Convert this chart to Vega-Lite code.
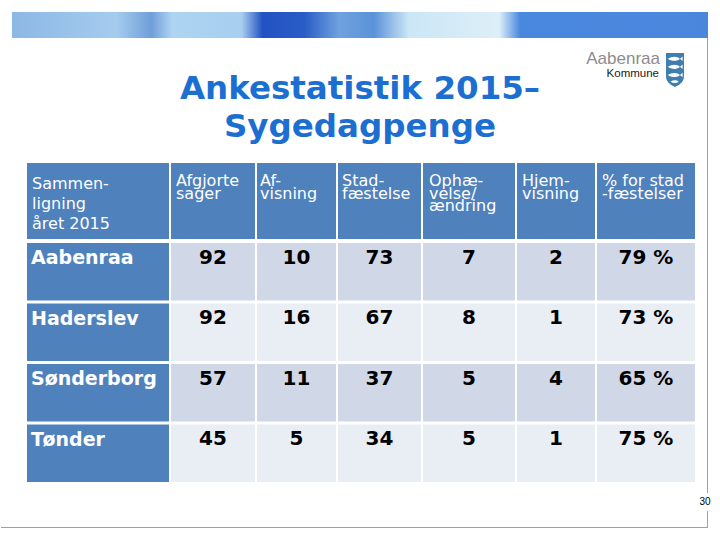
{
  "$schema": "https://vega.github.io/schema/vega-lite/v6.json",
  "padding": 0,
  "background": "white",
  "bounds": "flush",
  "columns": 8,
  "spacing": {"row": 4, "column": 2},
  "config": {
    "view": {"stroke": null},
    "font": "DejaVu Sans",
    "locale": {"number": {"decimal": ",", "thousands": ".", "grouping": [3], "currency": ["", " kr."], "percent": " %"}}
  },
  "title": {
    "text": ["Ankestatistik 2015–", "Sygedagpenge"],
    "anchor": "start",
    "align": "center",
    "frame": "group",
    "dx": 360,
    "font": "DejaVu Sans",
    "fontSize": 32.5,
    "fontWeight": "bold",
    "color": "#1C6FD1",
    "lineHeight": 38,
    "offset": -143.7
  },
  "datasets": {
    "kommuner": [
      {"Kommune": "Aabenraa", "afgjorte": 92, "afvisning": 10, "stadfaestelse": 73, "ophaevelse": 7, "hjemvisning": 2, "pct": 0.79},
      {"Kommune": "Haderslev", "afgjorte": 92, "afvisning": 16, "stadfaestelse": 67, "ophaevelse": 8, "hjemvisning": 1, "pct": 0.73},
      {"Kommune": "Sønderborg", "afgjorte": 57, "afvisning": 11, "stadfaestelse": 37, "ophaevelse": 5, "hjemvisning": 4, "pct": 0.65},
      {"Kommune": "Tønder", "afgjorte": 45, "afvisning": 5, "stadfaestelse": 34, "ophaevelse": 5, "hjemvisning": 1, "pct": 0.75}
    ],
    "headers": [
      {"col": "sammen", "label": ["Sammen-", "ligning", "året 2015"]},
      {"col": "afgjorte", "label": ["Afgjorte", "sager"]},
      {"col": "afvisning", "label": ["Af-", "visning"]},
      {"col": "stadfaestelse", "label": ["Stad-", "fæstelse"]},
      {"col": "ophaevelse", "label": ["Ophæ-", "velse/", "ændring"]},
      {"col": "hjemvisning", "label": ["Hjem-", "visning"]},
      {"col": "pct", "label": ["% for stad", "-fæstelser"]}
    ]
  },
  "concat": [
    {
      "width": 25,
      "height": 76,
      "data": {"values": [{}]},
      "layer": [
        {
          "mark": {"type": "rect", "opacity": 0},
          "encoding": {"x": {"value": 0}, "x2": {"value": 720}, "y": {"value": -163}, "y2": {"value": 377}}
        },
        {
          "mark": {"type": "rect", "fill": {"gradient": "linear", "x1": 0, "y1": 0, "x2": 1, "y2": 0, "stops": [
            {"offset": 0, "color": "#8CB8E6"},
            {"offset": 0.15, "color": "#A5CCEE"},
            {"offset": 0.2, "color": "#6F9ED9"},
            {"offset": 0.23, "color": "#AED4F2"},
            {"offset": 0.33, "color": "#A8CEF0"},
            {"offset": 0.36, "color": "#2352C2"},
            {"offset": 0.42, "color": "#2A5CC6"},
            {"offset": 0.47, "color": "#6FA2DE"},
            {"offset": 0.52, "color": "#5B92D9"},
            {"offset": 0.57, "color": "#CBE6F6"},
            {"offset": 0.7, "color": "#DDEFF8"},
            {"offset": 0.73, "color": "#4A88DF"},
            {"offset": 1, "color": "#4A86DC"}
          ]}},
          "encoding": {"x": {"value": 12}, "x2": {"value": 708}, "y": {"value": -151}, "y2": {"value": -125}}
        },
        {
          "mark": {"type": "rule", "color": "#A0A0A0", "strokeWidth": 1},
          "encoding": {"x": {"value": 707.5}, "y": {"value": -125}, "y2": {"value": 364}}
        },
        {
          "mark": {"type": "rule", "color": "#A0A0A0", "strokeWidth": 1},
          "encoding": {"x": {"value": 1}, "x2": {"value": 708}, "y": {"value": 364.5}}
        },
        {
          "mark": {"type": "rect", "color": "white"},
          "encoding": {"x": {"value": 699}, "x2": {"value": 715}, "y": {"value": 330}, "y2": {"value": 348}}
        },
        {
          "mark": {"type": "text", "text": "30", "font": "Liberation Sans", "fontSize": 10, "color": "black", "align": "center", "baseline": "middle"},
          "encoding": {"x": {"value": 705}, "y": {"value": 338.5}}
        },
        {
          "mark": {"type": "text", "text": "Aabenraa", "font": "Liberation Sans", "fontSize": 17, "color": "#8C8C8C", "align": "right", "baseline": "alphabetic"},
          "encoding": {"x": {"value": 660}, "y": {"value": -99}}
        },
        {
          "mark": {"type": "text", "text": "Kommune", "font": "Liberation Sans", "fontSize": 11.5, "color": "#1A1A1A", "align": "right", "baseline": "alphabetic"},
          "encoding": {"x": {"value": 659}, "y": {"value": -86}}
        },
        {
          "mark": {"type": "point", "filled": true, "opacity": 1, "color": "#3E7FAF", "size": 324, "shape": "M -1 -1.9 L 1 -1.9 L 1 0.7 C 1 1.4 0.4 1.7 0 1.9 C -0.4 1.7 -1 1.4 -1 0.7 Z"},
          "encoding": {"x": {"value": 675}, "y": {"value": -93}}
        },
        {
          "mark": {"type": "point", "filled": true, "opacity": 1, "color": "white", "size": 324, "shape": "M -0.8 -1.25 C -0.4 -1.55 0.3 -1.55 0.55 -1.25 L 0.85 -1.5 L 0.85 -1 L 0.55 -1.25 C 0.3 -0.95 -0.4 -0.95 -0.8 -1.25 Z M -0.8 -0.35 C -0.4 -0.65 0.3 -0.65 0.55 -0.35 L 0.85 -0.6 L 0.85 -0.1 L 0.55 -0.35 C 0.3 -0.05 -0.4 -0.05 -0.8 -0.35 Z M -0.8 0.55 C -0.4 0.25 0.3 0.25 0.55 0.55 L 0.85 0.3 L 0.85 0.8 L 0.55 0.55 C 0.3 0.85 -0.4 0.85 -0.8 0.55 Z M -0.5 1.3 C -0.2 1.1 0.2 1.1 0.4 1.3 C 0.2 1.5 -0.2 1.5 -0.5 1.3 Z"},
          "encoding": {"x": {"value": 675}, "y": {"value": -93}}
        }
      ]
    },
    {"width": 142, "height": 76, "data": {"name": "headers"}, "transform": [{"filter": "datum.col === 'sammen'"}],
      "layer": [
        {"mark": {"type": "rect", "color": "#4F81BD"}, "encoding": {}},
        {"mark": {"type": "text", "align": "left", "baseline": "top", "dx": -66, "dy": -24.6, "fontSize": 16, "lineHeight": 20, "color": "white", "font": "DejaVu Sans"}, "encoding": {"text": {"field": "label", "type": "nominal"}}}
      ]},
    {"width": 84, "height": 76, "data": {"name": "headers"}, "transform": [{"filter": "datum.col === 'afgjorte'"}],
      "layer": [
        {"mark": {"type": "rect", "color": "#4F81BD"}, "encoding": {}},
        {"mark": {"type": "text", "align": "left", "baseline": "top", "dx": -37, "dy": -27.6, "fontSize": 16, "lineHeight": 12.5, "color": "white", "font": "DejaVu Sans"}, "encoding": {"text": {"field": "label", "type": "nominal"}}}
      ]},
    {"width": 79, "height": 76, "data": {"name": "headers"}, "transform": [{"filter": "datum.col === 'afvisning'"}],
      "layer": [
        {"mark": {"type": "rect", "color": "#4F81BD"}, "encoding": {}},
        {"mark": {"type": "text", "align": "left", "baseline": "top", "dx": -36.5, "dy": -27.6, "fontSize": 16, "lineHeight": 12.5, "color": "white", "font": "DejaVu Sans"}, "encoding": {"text": {"field": "label", "type": "nominal"}}}
      ]},
    {"width": 83, "height": 76, "data": {"name": "headers"}, "transform": [{"filter": "datum.col === 'stadfaestelse'"}],
      "layer": [
        {"mark": {"type": "rect", "color": "#4F81BD"}, "encoding": {}},
        {"mark": {"type": "text", "align": "left", "baseline": "top", "dx": -37.5, "dy": -27.6, "fontSize": 16, "lineHeight": 12.5, "color": "white", "font": "DejaVu Sans"}, "encoding": {"text": {"field": "label", "type": "nominal"}}}
      ]},
    {"width": 92, "height": 76, "data": {"name": "headers"}, "transform": [{"filter": "datum.col === 'ophaevelse'"}],
      "layer": [
        {"mark": {"type": "rect", "color": "#4F81BD"}, "encoding": {}},
        {"mark": {"type": "text", "align": "left", "baseline": "top", "dx": -40, "dy": -27.6, "fontSize": 16, "lineHeight": 12.5, "color": "white", "font": "DejaVu Sans"}, "encoding": {"text": {"field": "label", "type": "nominal"}}}
      ]},
    {"width": 78, "height": 76, "data": {"name": "headers"}, "transform": [{"filter": "datum.col === 'hjemvisning'"}],
      "layer": [
        {"mark": {"type": "rect", "color": "#4F81BD"}, "encoding": {}},
        {"mark": {"type": "text", "align": "left", "baseline": "top", "dx": -34, "dy": -27.6, "fontSize": 16, "lineHeight": 12.5, "color": "white", "font": "DejaVu Sans"}, "encoding": {"text": {"field": "label", "type": "nominal"}}}
      ]},
    {"width": 98, "height": 76, "data": {"name": "headers"}, "transform": [{"filter": "datum.col === 'pct'"}],
      "layer": [
        {"mark": {"type": "rect", "color": "#4F81BD"}, "encoding": {}},
        {"mark": {"type": "text", "align": "left", "baseline": "top", "dx": -44, "dy": -27.6, "fontSize": 16, "lineHeight": 12.5, "color": "white", "font": "DejaVu Sans"}, "encoding": {"text": {"field": "label", "type": "nominal"}}}
      ]},
    {"width": 25, "height": 239, "data": {"values": [{}]}, "mark": {"type": "rect", "opacity": 0}, "encoding": {}},
    {"width": 142, "height": 239, "data": {"name": "kommuner"},
      "encoding": {"y": {"field": "Kommune", "type": "nominal", "scale": {"domain": ["Aabenraa", "Haderslev", "Sønderborg", "Tønder"], "paddingInner": 0.05, "paddingOuter": 0}, "axis": null}},
      "layer": [
        {"mark": {"type": "rect", "color": "#4F81BD"}},
        {"mark": {"type": "text", "align": "left", "baseline": "middle", "dx": -67, "dy": -13.5, "fontSize": 19, "fontWeight": "bold", "color": "white", "font": "DejaVu Sans"}, "encoding": {"text": {"field": "Kommune", "type": "nominal"}}}
      ]},
    {"width": 84, "height": 239, "data": {"name": "kommuner"},
      "encoding": {"y": {"field": "Kommune", "type": "nominal", "scale": {"domain": ["Aabenraa", "Haderslev", "Sønderborg", "Tønder"], "paddingInner": 0.05, "paddingOuter": 0}, "axis": null}},
      "layer": [
        {"mark": {"type": "rect"}, "encoding": {"color": {"condition": {"test": "datum.Kommune === 'Aabenraa' || datum.Kommune === 'Sønderborg'", "value": "#D0D8E8"}, "value": "#E9EDF4"}}},
        {"mark": {"type": "text", "baseline": "middle", "dy": -14, "fontSize": 20, "fontWeight": "bold", "color": "black", "font": "DejaVu Sans"}, "encoding": {"text": {"field": "afgjorte", "type": "quantitative", "format": "d"}}}
      ]},
    {"width": 79, "height": 239, "data": {"name": "kommuner"},
      "encoding": {"y": {"field": "Kommune", "type": "nominal", "scale": {"domain": ["Aabenraa", "Haderslev", "Sønderborg", "Tønder"], "paddingInner": 0.05, "paddingOuter": 0}, "axis": null}},
      "layer": [
        {"mark": {"type": "rect"}, "encoding": {"color": {"condition": {"test": "datum.Kommune === 'Aabenraa' || datum.Kommune === 'Sønderborg'", "value": "#D0D8E8"}, "value": "#E9EDF4"}}},
        {"mark": {"type": "text", "baseline": "middle", "dy": -14, "fontSize": 20, "fontWeight": "bold", "color": "black", "font": "DejaVu Sans"}, "encoding": {"text": {"field": "afvisning", "type": "quantitative", "format": "d"}}}
      ]},
    {"width": 83, "height": 239, "data": {"name": "kommuner"},
      "encoding": {"y": {"field": "Kommune", "type": "nominal", "scale": {"domain": ["Aabenraa", "Haderslev", "Sønderborg", "Tønder"], "paddingInner": 0.05, "paddingOuter": 0}, "axis": null}},
      "layer": [
        {"mark": {"type": "rect"}, "encoding": {"color": {"condition": {"test": "datum.Kommune === 'Aabenraa' || datum.Kommune === 'Sønderborg'", "value": "#D0D8E8"}, "value": "#E9EDF4"}}},
        {"mark": {"type": "text", "baseline": "middle", "dy": -14, "fontSize": 20, "fontWeight": "bold", "color": "black", "font": "DejaVu Sans"}, "encoding": {"text": {"field": "stadfaestelse", "type": "quantitative", "format": "d"}}}
      ]},
    {"width": 92, "height": 239, "data": {"name": "kommuner"},
      "encoding": {"y": {"field": "Kommune", "type": "nominal", "scale": {"domain": ["Aabenraa", "Haderslev", "Sønderborg", "Tønder"], "paddingInner": 0.05, "paddingOuter": 0}, "axis": null}},
      "layer": [
        {"mark": {"type": "rect"}, "encoding": {"color": {"condition": {"test": "datum.Kommune === 'Aabenraa' || datum.Kommune === 'Sønderborg'", "value": "#D0D8E8"}, "value": "#E9EDF4"}}},
        {"mark": {"type": "text", "baseline": "middle", "dy": -14, "fontSize": 20, "fontWeight": "bold", "color": "black", "font": "DejaVu Sans"}, "encoding": {"text": {"field": "ophaevelse", "type": "quantitative", "format": "d"}}}
      ]},
    {"width": 78, "height": 239, "data": {"name": "kommuner"},
      "encoding": {"y": {"field": "Kommune", "type": "nominal", "scale": {"domain": ["Aabenraa", "Haderslev", "Sønderborg", "Tønder"], "paddingInner": 0.05, "paddingOuter": 0}, "axis": null}},
      "layer": [
        {"mark": {"type": "rect"}, "encoding": {"color": {"condition": {"test": "datum.Kommune === 'Aabenraa' || datum.Kommune === 'Sønderborg'", "value": "#D0D8E8"}, "value": "#E9EDF4"}}},
        {"mark": {"type": "text", "baseline": "middle", "dy": -14, "fontSize": 20, "fontWeight": "bold", "color": "black", "font": "DejaVu Sans"}, "encoding": {"text": {"field": "hjemvisning", "type": "quantitative", "format": "d"}}}
      ]},
    {"width": 98, "height": 239, "data": {"name": "kommuner"},
      "encoding": {"y": {"field": "Kommune", "type": "nominal", "scale": {"domain": ["Aabenraa", "Haderslev", "Sønderborg", "Tønder"], "paddingInner": 0.05, "paddingOuter": 0}, "axis": null}},
      "layer": [
        {"mark": {"type": "rect"}, "encoding": {"color": {"condition": {"test": "datum.Kommune === 'Aabenraa' || datum.Kommune === 'Sønderborg'", "value": "#D0D8E8"}, "value": "#E9EDF4"}}},
        {"mark": {"type": "text", "baseline": "middle", "dy": -14, "fontSize": 20, "fontWeight": "bold", "color": "black", "font": "DejaVu Sans"}, "encoding": {"text": {"field": "pct", "type": "quantitative", "format": ".0%"}}}
      ]}
  ]
}
